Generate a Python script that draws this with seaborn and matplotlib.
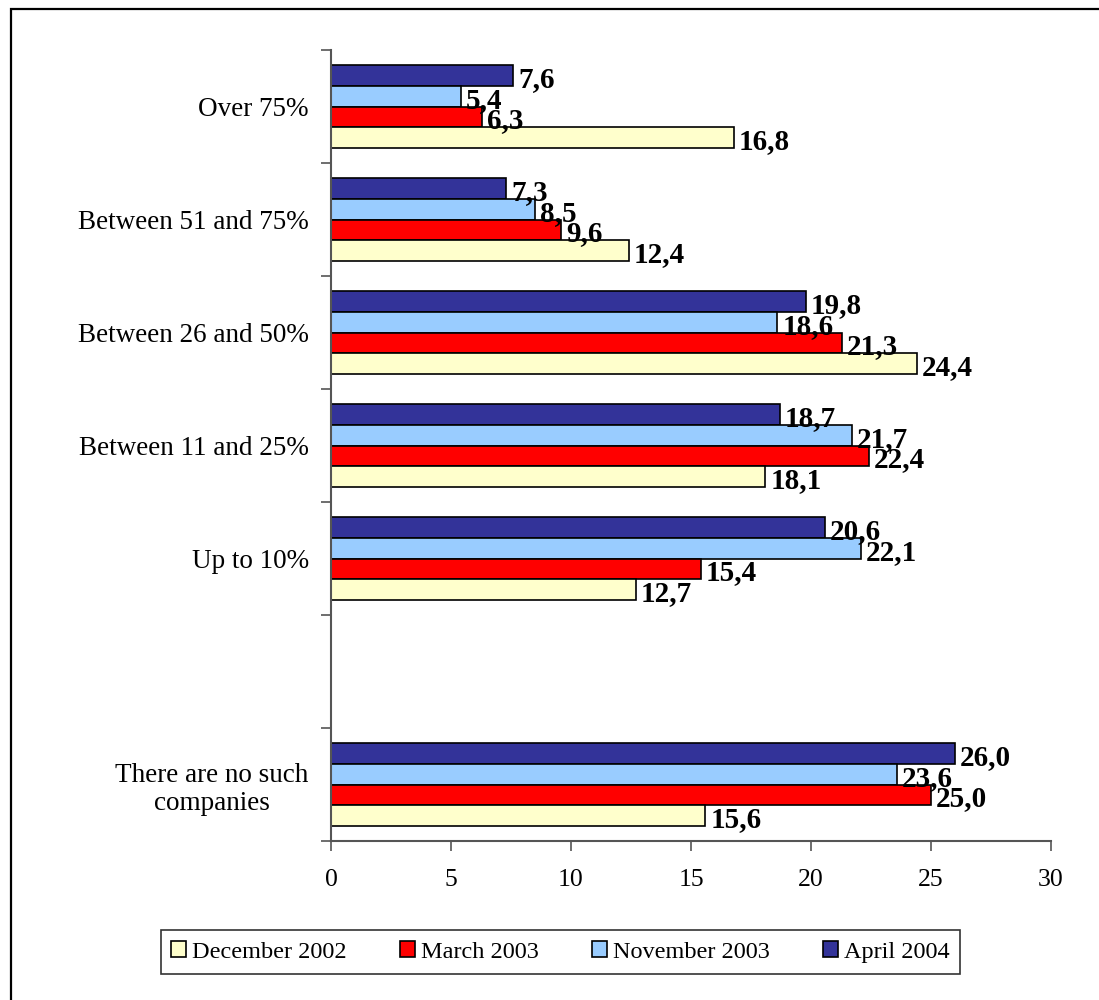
import matplotlib
matplotlib.use("Agg")
import matplotlib.pyplot as plt
import matplotlib.patches as mpatches
import seaborn as sns
import pandas as pd
import numpy as np

categories = ["Over 75%", "Between 51 and 75%", "Between 26 and 50%",
              "Between 11 and 25%", "Up to 10%", "", "There are no such\ncompanies"]
periods = ["December 2002", "March 2003", "November 2003", "April 2004"]

dec_2002 = [16.8, 12.4, 24.4, 18.1, 12.7, None, 15.6]
mar_2003 = [6.3, 9.6, 21.3, 22.4, 15.4, None, 25.0]
nov_2003 = [5.4, 8.5, 18.6, 21.7, 22.1, None, 23.6]
apr_2004 = [7.6, 7.3, 19.8, 18.7, 20.6, None, 26.0]

colors = {"December 2002": "#FFFFCC", "March 2003": "#FF0000",
          "November 2003": "#99CCFF", "April 2004": "#333399"}

rows = []
for period, vals in zip(periods, [dec_2002, mar_2003, nov_2003, apr_2004]):
    for cat, v in zip(categories, vals):
        if v is not None:
            rows.append({"category": cat, "period": period, "value": v})
df = pd.DataFrame(rows)

sns.set_theme(style="white")
plt.rcParams["font.family"] = ["Liberation Serif", "DejaVu Serif"]
plt.rcParams["text.color"] = "black"
plt.rcParams["xtick.color"] = "black"
plt.rcParams["ytick.color"] = "black"

fig = plt.figure(figsize=(10.99, 10.0), dpi=100)
ax = fig.add_axes([0.3012, 0.159, 0.6551, 0.791])

hue_order = ["April 2004", "November 2003", "March 2003", "December 2002"]
sns.barplot(data=df, y="category", x="value", hue="period", order=categories,
            hue_order=hue_order, palette=colors, saturation=1, orient="h",
            width=0.73, gap=0, edgecolor="black", linewidth=1.2, ax=ax,
            legend=False, errorbar=None)

# value labels next to each bar
for container in ax.containers:
    for patch in container.patches:
        w = patch.get_width()
        if np.isnan(w):
            continue
        y = patch.get_y() + patch.get_height() / 2
        ax.annotate(f"{w:.1f}".replace(".", ","), xy=(w, y), xytext=(3.5, -3),
                    textcoords="offset points", ha="left", va="center",
                    fontsize=21, fontweight="bold", color="black")

ax.set_xlim(0, 30)
ax.set_ylim(len(categories) - 0.5, -0.5)
ax.set_xticks(range(0, 31, 5))
ax.set_xlabel("")
ax.set_ylabel("")

ax.set_yticks(range(len(categories)))
ax.set_yticklabels(categories, fontsize=19.5, multialignment="center",
                   color="black")
ax.set_yticks(np.arange(-0.5, len(categories), 1.0), minor=True)
ax.tick_params(axis="y", which="major", length=0, pad=16)
ax.tick_params(axis="y", which="minor", length=7, width=1.2, color="#555555",
               direction="out", left=True)
ax.tick_params(axis="x", which="major", length=7, width=1.2, color="#555555",
               direction="out", bottom=True, labelsize=18.5, pad=13,
               labelcolor="black")

for side in ["top", "right"]:
    ax.spines[side].set_visible(False)
for side in ["left", "bottom"]:
    ax.spines[side].set_color("#555555")
    ax.spines[side].set_linewidth(1.5)

handles = [mpatches.Patch(facecolor=colors[p], edgecolor="black", linewidth=1.2)
           for p in periods]
leg = fig.legend(handles, periods, loc="center", bbox_to_anchor=(0.51, 0.048),
                 ncol=4, frameon=True, fancybox=False, edgecolor="black",
                 fontsize=17.5, handlelength=0.6, handleheight=0.6,
                 handletextpad=0.25, columnspacing=2.2, borderpad=0.45,
                 labelcolor="black")
leg.get_frame().set_linewidth(1.2)

# outer chart frame
frame = mpatches.Rectangle((11 / 1099, -0.1), 1.2, 1.1 - 9 / 1000,
                           transform=fig.transFigure, fill=False,
                           edgecolor="black", linewidth=1.6, clip_on=False)
fig.patches.append(frame)

fig.savefig("out.png", dpi=100)
